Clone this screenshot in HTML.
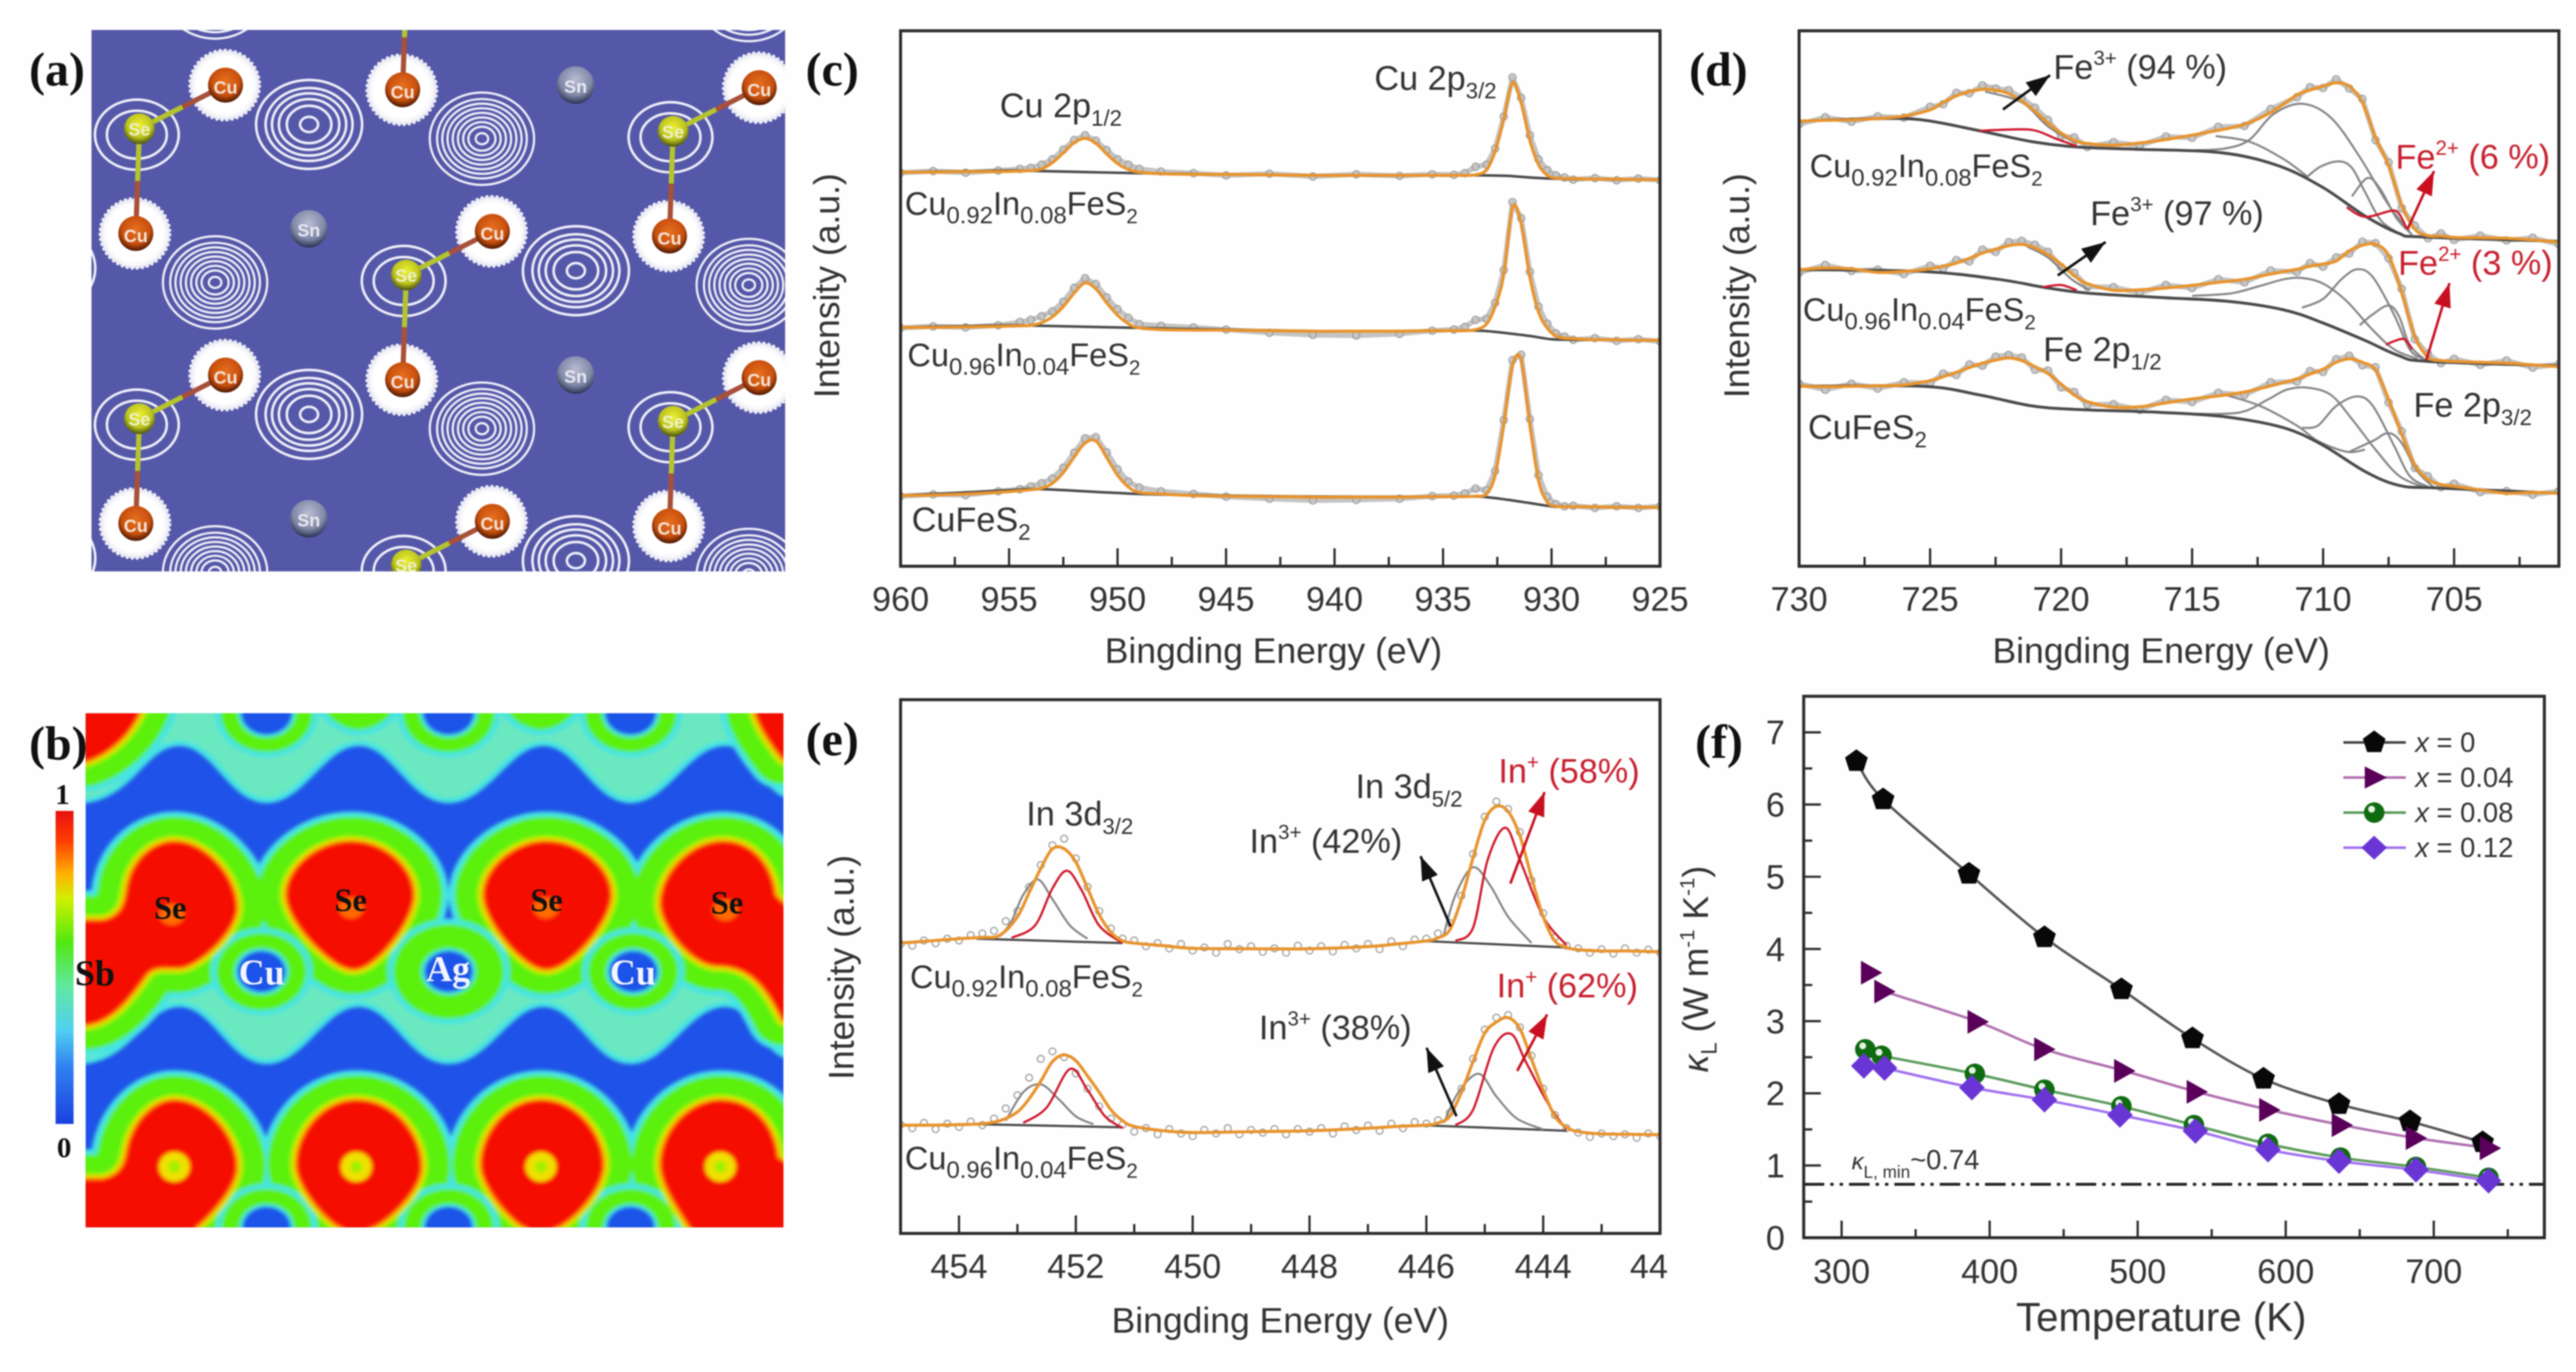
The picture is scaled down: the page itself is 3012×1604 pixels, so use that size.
<!DOCTYPE html>
<html lang="en">
<head>
<meta charset="utf-8">
<title>XPS spectra and lattice thermal conductivity figure</title>
<style>
html,body{margin:0;padding:0;background:#fefefe;width:3012px;height:1604px;overflow:hidden}
svg{display:block;filter:blur(0.7px)}
text{font-family:"Liberation Sans",sans-serif;fill:#333}
.letter{font-family:"Liberation Serif",serif;font-weight:bold;font-size:56px;fill:#111}
.lab{font-size:40px}
.sub{font-size:33px}
.sub2{font-size:26px}
.sup{font-size:24px}
.form{font-size:38px}
.form .sub{font-size:28px}
.form .sub2{font-size:24px}
.red,.red tspan{fill:#c8202f}
.ttl{font-size:41.5px;text-anchor:middle}
.elf{font-family:"Liberation Serif",serif;font-weight:bold}
</style>
</head>
<body>
<svg id="fig" width="3012" height="1604" viewBox="0 0 3012 1604">
<defs>
<radialGradient id="cuGrad" cx="50%" cy="40%" r="62%"><stop offset="0" stop-color="#e8701f"/><stop offset=".65" stop-color="#c8500e"/><stop offset="1" stop-color="#3a1003"/></radialGradient>
<radialGradient id="seGrad" cx="50%" cy="38%" r="62%"><stop offset="0" stop-color="#eef030"/><stop offset=".65" stop-color="#bcc420"/><stop offset="1" stop-color="#4a5010"/></radialGradient>
<radialGradient id="snGrad" cx="50%" cy="35%" r="65%"><stop offset="0" stop-color="#b8bcd0"/><stop offset=".65" stop-color="#8088a8"/><stop offset="1" stop-color="#2a3050"/></radialGradient>
<radialGradient id="blobGrad"><stop offset="0" stop-color="#fff"/><stop offset=".8" stop-color="#fff"/><stop offset=".93" stop-color="#f2f2f8"/><stop offset="1" stop-color="#c8c8e4"/></radialGradient>
<linearGradient id="barGrad" x1="0" y1="0" x2="0" y2="1"><stop offset="0" stop-color="#e81010"/><stop offset=".1" stop-color="#ff4000"/><stop offset=".2" stop-color="#ffb000"/><stop offset=".28" stop-color="#d0f000"/><stop offset=".42" stop-color="#50e810"/><stop offset=".56" stop-color="#60e8a0"/><stop offset=".7" stop-color="#50d0f0"/><stop offset=".82" stop-color="#3080f0"/><stop offset="1" stop-color="#1a40e0"/></linearGradient>
<clipPath id="clipA"><rect x="107" y="35" width="811" height="633"/></clipPath>
<clipPath id="clipB"><rect x="167" y="66" width="1361" height="1172"/></clipPath>
<clipPath id="clipC"><rect x="1053" y="36" width="888" height="626"/></clipPath>
<clipPath id="clipD"><rect x="2103.6" y="36" width="888.4" height="626"/></clipPath>
<clipPath id="clipE"><rect x="1053" y="818" width="888" height="624"/></clipPath>
<clipPath id="clipF"><rect x="2109" y="814" width="866" height="633"/></clipPath>
<filter id="soft" x="-5%" y="-5%" width="110%" height="110%"><feGaussianBlur stdDeviation="4"/></filter>
<marker id="headBlack" markerUnits="userSpaceOnUse" markerWidth="30" markerHeight="22" refX="28" refY="10" orient="auto"><path d="M0,0 L28,10 L0,20 Z" fill="#111"/></marker>
<marker id="headRed" markerUnits="userSpaceOnUse" markerWidth="30" markerHeight="22" refX="28" refY="10" orient="auto"><path d="M0,0 L28,10 L0,20 Z" fill="#c81020"/></marker>
</defs>

<rect width="3012" height="1604" fill="#fefefe"/>

<!-- Panel a -->
<text class="letter" x="34" y="100">(a)</text>
<g clip-path="url(#clipA)">
  <rect x="107" y="35" width="811" height="633" fill="#5558a8"/>
  <g id="latticeA"></g>
</g>

<!-- Panel b -->
<text class="letter" x="34" y="888">(b)</text>
<g transform="translate(0,800) scale(0.5995,0.5128)" clip-path="url(#clipB)">
  <rect x="167" y="66" width="1361" height="1172" fill="#1f52e8"/>
  <g id="elfLayers" filter="url(#soft)">
    <path fill="#6ae8c0" stroke="#45e4e4" stroke-width="12" d="M100,280 L167,265 C260,250 280,135 350,135 C420,135 450,265 520,265 C590,265 630,135 700,135 C770,135 800,265 875,265 C950,265 990,135 1060,135 C1130,135 1160,265 1230,265 C1300,265 1340,135 1415,135 C1470,135 1490,230 1528,250 L1600,260 L1600,0 L100,0 Z"/>
    <path fill="#6ae8c0" stroke="#45e4e4" stroke-width="12" d="M100,875 L167,860 C260,845 280,730 350,730 C420,730 450,860 520,860 C590,860 630,730 700,730 C770,730 800,860 875,860 C950,860 990,730 1060,730 C1130,730 1160,860 1230,860 C1300,860 1340,730 1415,730 C1470,730 1490,825 1528,845 L1600,855 L1600,540 L100,540 Z"/>
    <path fill="#6ae8c0" stroke="#45e4e4" stroke-width="12" d="M440,1300 L440,1120 L520,1060 L600,1120 L600,1300 Z M800,1300 L800,1120 L875,1060 L950,1120 L950,1300 Z M1160,1300 L1160,1120 L1235,1060 L1310,1120 L1310,1300 Z"/>
  </g>
</g>
<text class="elf" x="73" y="940" font-size="34" text-anchor="middle" style="fill:#111">1</text>
<rect x="65" y="948" width="21" height="366" fill="url(#barGrad)"/>
<text class="elf" x="75" y="1353" font-size="34" text-anchor="middle" style="fill:#111">0</text>
<text class="elf" x="111" y="1152" font-size="42" text-anchor="middle" style="fill:#111">Sb</text>
<text class="elf" x="199" y="1074" font-size="38" text-anchor="middle" style="fill:#111">Se</text>
<text class="elf" x="410" y="1065" font-size="38" text-anchor="middle" style="fill:#111">Se</text>
<text class="elf" x="639" y="1065" font-size="38" text-anchor="middle" style="fill:#111">Se</text>
<text class="elf" x="850" y="1068" font-size="38" text-anchor="middle" style="fill:#111">Se</text>
<text class="elf" x="306" y="1151" font-size="42" text-anchor="middle" style="fill:#f4f4ff">Cu</text>
<text class="elf" x="524" y="1147" font-size="42" text-anchor="middle" style="fill:#f4f4ff">Ag</text>
<text class="elf" x="740" y="1151" font-size="42" text-anchor="middle" style="fill:#f4f4ff">Cu</text>

<!-- Panel c -->
<text class="letter" x="942" y="100">(c)</text>
<g id="plotC"></g>
<rect x="1053" y="36" width="888" height="626" fill="none" stroke="#2a2a2a" stroke-width="3.5"/>
<g id="axisC"></g>
<text class="ttl" x="1489" y="775">Bingding Energy (eV)</text>
<text class="ttl" transform="translate(981,334) rotate(-90)">Intensity (a.u.)</text>
<text class="lab" x="1169" y="137">Cu 2p<tspan class="sub2" dy="10">1/2</tspan></text>
<text class="lab" x="1607" y="105">Cu 2p<tspan class="sub2" dy="10">3/2</tspan></text>
<text class="form" x="1058" y="251">Cu<tspan class="sub" dy="10">0.92</tspan><tspan dy="-10">In</tspan><tspan class="sub" dy="10">0.08</tspan><tspan dy="-10">FeS</tspan><tspan class="sub2" dy="10">2</tspan></text>
<text class="form" x="1061" y="428">Cu<tspan class="sub" dy="10">0.96</tspan><tspan dy="-10">In</tspan><tspan class="sub" dy="10">0.04</tspan><tspan dy="-10">FeS</tspan><tspan class="sub2" dy="10">2</tspan></text>
<text class="lab" x="1066" y="621">CuFeS<tspan class="sub2" dy="10">2</tspan></text>

<!-- Panel d -->
<text class="letter" x="1975" y="100">(d)</text>
<g id="plotD"></g>
<rect x="2103.6" y="36" width="888.4" height="626" fill="none" stroke="#2a2a2a" stroke-width="3.5"/>
<g id="axisD"></g>
<text class="ttl" x="2527" y="775">Bingding Energy (eV)</text>
<text class="ttl" transform="translate(2045,334) rotate(-90)">Intensity (a.u.)</text>
<text class="lab" x="2401" y="92">Fe<tspan class="sup" dy="-16">3+</tspan><tspan dy="16"> (94 %)</tspan></text>
<text class="lab" x="2444" y="263">Fe<tspan class="sup" dy="-16">3+</tspan><tspan dy="16"> (97 %)</tspan></text>
<text class="lab red" x="2801" y="197">Fe<tspan class="sup" dy="-16">2+</tspan><tspan dy="16"> (6 %)</tspan></text>
<text class="lab red" x="2804" y="321">Fe<tspan class="sup" dy="-16">2+</tspan><tspan dy="16"> (3 %)</tspan></text>
<text class="form" x="2116" y="207">Cu<tspan class="sub" dy="10">0.92</tspan><tspan dy="-10">In</tspan><tspan class="sub" dy="10">0.08</tspan><tspan dy="-10">FeS</tspan><tspan class="sub2" dy="10">2</tspan></text>
<text class="form" x="2108" y="375">Cu<tspan class="sub" dy="10">0.96</tspan><tspan dy="-10">In</tspan><tspan class="sub" dy="10">0.04</tspan><tspan dy="-10">FeS</tspan><tspan class="sub2" dy="10">2</tspan></text>
<text class="lab" x="2114" y="513">CuFeS<tspan class="sub2" dy="10">2</tspan></text>
<text class="lab" x="2389" y="422">Fe 2p<tspan class="sub2" dy="10">1/2</tspan></text>
<text class="lab" x="2822" y="487">Fe 2p<tspan class="sub2" dy="10">3/2</tspan></text>
<line x1="2342" y1="128" x2="2397" y2="88" stroke="#111" stroke-width="3" marker-end="url(#headBlack)"/>
<line x1="2406" y1="322" x2="2462" y2="283" stroke="#111" stroke-width="3" marker-end="url(#headBlack)"/>
<line x1="2815" y1="268" x2="2846" y2="200" stroke="#c81020" stroke-width="3" marker-end="url(#headRed)"/>
<line x1="2837" y1="421" x2="2864" y2="331" stroke="#c81020" stroke-width="3" marker-end="url(#headRed)"/>

<!-- Panel e -->
<text class="letter" x="942" y="883">(e)</text>
<g id="plotE"></g>
<rect x="1053" y="818" width="888" height="624" fill="none" stroke="#2a2a2a" stroke-width="3.5"/>
<g id="axisE"></g>
<text class="ttl" x="1497" y="1558">Bingding Energy (eV)</text>
<text class="ttl" transform="translate(998,1131) rotate(-90)">Intensity (a.u.)</text>
<text class="lab" x="1200" y="965">In 3d<tspan class="sub2" dy="10">3/2</tspan></text>
<text class="lab" x="1585" y="933">In 3d<tspan class="sub2" dy="10">5/2</tspan></text>
<text class="lab red" x="1752" y="915">In<tspan class="sup" dy="-16">+</tspan><tspan dy="16"> (58%)</tspan></text>
<text class="lab" x="1461" y="997">In<tspan class="sup" dy="-16">3+</tspan><tspan dy="16"> (42%)</tspan></text>
<text class="lab red" x="1750" y="1166">In<tspan class="sup" dy="-16">+</tspan><tspan dy="16"> (62%)</tspan></text>
<text class="lab" x="1472" y="1215">In<tspan class="sup" dy="-16">3+</tspan><tspan dy="16"> (38%)</tspan></text>
<text class="form" x="1064" y="1155">Cu<tspan class="sub" dy="10">0.92</tspan><tspan dy="-10">In</tspan><tspan class="sub" dy="10">0.08</tspan><tspan dy="-10">FeS</tspan><tspan class="sub2" dy="10">2</tspan></text>
<text class="form" x="1058" y="1367">Cu<tspan class="sub" dy="10">0.96</tspan><tspan dy="-10">In</tspan><tspan class="sub" dy="10">0.04</tspan><tspan dy="-10">FeS</tspan><tspan class="sub2" dy="10">2</tspan></text>
<line x1="1696" y1="1083" x2="1661" y2="1001" stroke="#111" stroke-width="3" marker-end="url(#headBlack)"/>
<line x1="1766" y1="1033" x2="1806" y2="926" stroke="#c81020" stroke-width="3" marker-end="url(#headRed)"/>
<line x1="1703" y1="1305" x2="1668" y2="1225" stroke="#111" stroke-width="3" marker-end="url(#headBlack)"/>
<line x1="1774" y1="1252" x2="1809" y2="1186" stroke="#c81020" stroke-width="3" marker-end="url(#headRed)"/>

<!-- Panel f -->
<text class="letter" x="1982" y="886">(f)</text>
<g id="plotF"></g>
<rect x="2109" y="814" width="866" height="633" fill="none" stroke="#2a2a2a" stroke-width="3.5"/>
<g id="axisF"></g>
<text class="ttl" x="2527" y="1556" style="font-size:47px">Temperature (K)</text>
<text class="ttl" transform="translate(1997,1133) rotate(-90)"><tspan font-style="italic">κ</tspan><tspan class="sub2" dy="10">L</tspan><tspan dy="-10"> (W m</tspan><tspan class="sup" dy="-16">-1</tspan><tspan dy="16"> K</tspan><tspan class="sup" dy="-16">-1</tspan><tspan dy="16">)</tspan></text>
<text x="2165" y="1367" font-size="32"><tspan font-style="italic" font-size="28">κ</tspan><tspan font-size="20" dy="10">L, min</tspan><tspan dy="-10">~0.74</tspan></text>
<g>
  <g>
    <line x1="2740" x2="2813" y1="868" y2="868" stroke="#444" stroke-width="3"/>
    <polygon points="2776,854 2789.3,863.7 2784.2,879.3 2767.8,879.3 2762.7,863.7" fill="#080808"/>
    <text x="2824" y="879" font-size="32"><tspan font-style="italic">x</tspan> = 0</text>
  </g>
  <g>
    <line x1="2740" x2="2813" y1="909" y2="909" stroke="#b070b0" stroke-width="3"/>
    <polygon points="2765,896 2791,909 2765,922" fill="#5a005a"/>
    <text x="2824" y="920" font-size="32"><tspan font-style="italic">x</tspan> = 0.04</text>
  </g>
  <g>
    <line x1="2740" x2="2813" y1="950" y2="950" stroke="#5a9a5a" stroke-width="3"/>
    <circle cx="2776" cy="950" r="12" fill="#0f6b0f"/>
    <circle cx="2773" cy="946" r="4" fill="#e8f4e8"/>
    <text x="2824" y="961" font-size="32"><tspan font-style="italic">x</tspan> = 0.08</text>
  </g>
  <g>
    <line x1="2740" x2="2813" y1="991" y2="991" stroke="#a070f0" stroke-width="3"/>
    <polygon points="2776,977 2791,991 2776,1005 2761,991" fill="#6a35d5"/>
    <text x="2824" y="1002" font-size="32"><tspan font-style="italic">x</tspan> = 0.12</text>
  </g>
</g>
</svg>

<script>
// ---------- Panel c data: Cu 2p (energy in eV, intensity in % of frame height) ----------
const cEnergy=[960,958.5,957,955.5,954.5,954,953.5,953,952.5,952,951.5,951,950.5,950,949.5,949,948,946.5,945,943,941,939,937,935.5,934.5,934,933.5,933,932.6,932.2,931.8,931.4,931,930.6,930.2,929.8,929.4,929,928,927,926,925];
const cFitTop=[73.6,73.6,73.7,73.7,73.8,73.9,74.2,75.4,77.2,79.1,79.9,79,77,75.2,74.1,73.6,73.3,73.2,73.2,73.1,73,73,73,73,73,73,73.1,74,77.5,83.5,90.3,86.5,79.5,75,73,72.5,72.4,72.4,72.3,72.3,72.2,72.2];
const cMeasTop=[73.5,73.8,73.5,73.9,74.2,74.4,75,76,77.8,79.6,80.5,79.5,77.7,76,75,74.2,73.7,73.4,73,73.3,72.8,73.2,72.9,73.2,73.1,73.4,74.6,75,78,84,91.3,87.5,80.5,76,74,73,72.6,72.2,72.5,72.1,72.4,72.1];
const cFitMid=[44.6,44.6,44.7,44.8,44.9,45,45.5,46.6,48.5,51,52.9,51.8,49.2,46.9,45.3,44.5,44.2,44.1,44.1,44,43.9,43.9,43.9,44,44,44,44.2,45.2,48.5,54.5,67,64,54,47.5,44.5,43,42.6,42.5,42.3,42.3,42.2,42.2];
const cMeasMid=[44.5,44.8,44.6,45,45.6,46,46.7,47.6,49.4,52,53.8,52.7,50.2,48,46.4,45.2,44.9,44.6,44.2,43.6,43.2,43.1,43.4,44,44.2,44.7,46,46.2,49.2,55.3,68,65,55,48.5,45.3,43.5,42.9,42.3,42.6,42.1,42.4,42];
const cFitBot=[13.2,13.3,13.5,13.8,14.1,14.3,14.6,15.5,17.5,20.4,23,23.4,20.3,17,14.8,13.8,13.5,13.2,13.1,13,12.9,12.9,12.9,13,13,13,13.1,13.5,17,26.5,37.5,38.5,26.5,16,12,11.2,11.1,11.1,11.1,11,11,11];
const cMeasBot=[13.1,13.4,13.3,14,14.4,14.9,15.5,16.4,18.4,21.2,23.9,24.1,21.3,18.1,15.8,14.7,14,13.5,13,12.6,12.3,12.4,12.6,13.1,13.2,13.6,14.5,14.2,17.8,27.3,38.5,39.5,27.5,17,13,11.6,11.2,11.3,10.9,11.2,10.9,11.2];
const cBgEnergy=[960,955,953.5,949,945,940,935,933.3,932,931,930,929,925];
const cBgTop=[73.6,73.9,73.8,73.4,73.2,73,73,73,72.9,72.6,72.4,72.3,72.2];
const cBgMid=[44.6,45,44.9,44.5,44.2,43.9,44,44,43.5,43,42.4,42.3,42.2];
const cBgBot=[13.2,14.2,14.4,13.5,13.2,13,13,13,12.4,11.8,11.2,11.1,11];
const cMajor=[960,955,950,945,940,935,930,925];
const cMinor=[957.5,952.5,947.5,942.5,937.5,932.5,927.5];
const cTickLabels=['960','955','950','945','940','935','930','925'];

// ---------- Panel d data: Fe 2p (energy in eV, intensity in a.u. 0-1226) ----------
const dEnergy=[730,729,728,727,726,725,724.5,724,723.5,723,722.5,722,721.5,721,720.5,720,719.5,719,718,717,716,715,714,713,712,711,710.5,710,709.5,709,708.5,708,707.5,707,706.5,706,705.5,705,704,703,702,701];
const dFitTop=[1019,1021,1022,1025,1031,1045,1062,1077,1087,1092,1090,1082,1065,1042,1015,992,975,968,964,969,977,987,998,1012,1039,1079,1090,1099,1107,1099,1062,982,917,827,772,757,756,753,752,751,747,742];
const dMeasTop=[1012,1028,1018,1030,1027,1052,1058,1084,1083,1101,1094,1090,1072,1050,1022,985,982,960,971,963,984,981,1006,1008,1047,1074,1097,1095,1115,1094,1070,976,925,820,780,751,762,747,757,746,752,737];
const dFitMid=[679,683,681,673,675,681,687,694,705,717,726,734,737,729,713,692,665,647,632,633,637,643,650,657,669,680,687,692,699,722,735,737,712,627,527,479,471,469,467,465,461,457];
const dMeasMid=[672,690,676,679,669,688,682,701,698,725,720,742,745,736,720,685,672,640,639,626,644,637,657,650,677,674,694,686,707,716,743,740,705,635,520,486,465,475,461,471,455,463];
const dFitBot=[412,411,412,413,415,425,434,444,455,465,472,477,471,457,441,417,392,377,364,365,374,383,390,399,413,429,440,451,467,475,467,449,382,302,232,199,187,183,175,167,169,167];
const dMeasBot=[418,404,418,407,421,419,441,438,462,459,480,484,478,450,448,410,399,370,371,358,381,376,397,392,421,423,447,445,474,482,460,456,375,309,225,206,181,189,170,172,164,172];
const dBgTopE=[730,727,725.3,723.1,721.1,719.4,717.2,713.9,711.7,710,708.4,707.1,706.2,701];
const dBgTopI=[1019,1025,1022,997,972,960,955,947,917,867,802,762,754,744];
const dBgMidE=[730,725.3,722.4,720.5,718.9,716.1,713.7,711.5,710,708.4,707.1,706,701];
const dBgMidI=[679,675,657,637,625,615,607,587,557,517,482,469,459];
const dBgBotE=[730,725.3,723.1,721.1,719.4,716.1,713.7,711.5,710,708.4,707.1,705.6,701];
const dBgBotI=[412,412,392,367,359,352,342,317,277,217,185,179,167];
// gray fitted component peaks: energies and intensities
const dTopBigE=[715,713.7,712.8,711.9,710.8,709.7,708.6,707.5,706.7];
const dTopBigI=[952,957,977,1035,1059,1027,937,827,767];
const dTopSecE=[710.6,710.1,709.4,708.9,708.4,707.8,707.1];
const dTopSecI=[892,915,927,912,857,792,762];
const dTopThiE=[708.9,708.3,707.8,707.2,706.6];
const dTopThiI=[847,889,862,797,759];
const dTopShoE=[714.1,712.8,711.5,710.6];
const dTopShoI=[985,972,932,892];
const dTopEnvE=[722.9,721.5,720.5,719.4];
const dTopEnvI=[1087,1062,1007,967];
const dTopRed1E=[723.1,722.4,721.1,720.2,719.4];
const dTopRed1I=[997,999,999,979,962];
const dTopRed2E=[709.1,708.4,707.4,707.1,706.8];
const dTopRed2I=[822,800,814,807,772];
const dMidBigE=[715,713.5,712.4,711.5,710.8,710,709.1,708.2,707.3,706.4];
const dMidBigI=[619,625,642,657,660,647,607,547,497,475];
const dMidSecE=[710.8,710,709.3,708.7,708.1,707.3,706.7,706.2];
const dMidSecI=[592,612,657,680,662,577,497,475];
const dMidThiE=[708.6,708.1,707.5,707.1,706.7,706.1];
const dMidThiI=[552,577,597,572,507,472];
const dMidEnvE=[721.3,720.5,719.6,718.9];
const dMidEnvI=[732,707,657,632];
const dMidRed1E=[720.7,720,719.4];
const dMidRed1I=[639,644,632];
const dMidRed2E=[707.6,707.3,706.9,706.6];
const dMidRed2I=[507,515,520,497];
const dBotBigE=[715,713.2,712.1,711.4,710.6,709.7,708.9,708,707.1,706.2];
const dBotBigI=[349,352,382,404,409,392,337,267,207,182];
const dBotSecE=[710.8,710.2,709.5,708.7,708.1,707.3,706.7,706];
const dBotSecI=[317,322,367,389,367,277,207,182];
const dBotThiE=[709,708.1,707.5,707,706.4,705.8];
const dBotThiI=[262,287,305,282,217,182];
const dBotShoE=[713.7,712.4,711,710.2,709.1,708.4];
const dBotShoI=[392,367,322,287,262,267];
const dMajor=[730,725,720,715,710,705];
const dMinor=[727.5,722.5,717.5,712.5,707.5,702.5];
const dTickLabels=['730','725','720','715','710','705'];

// ---------- Panel e data: In 3d (energy in eV, intensity in a.u. 0-1217) ----------
const eEnergy=[455,454.5,454,453.6,453.3,453,452.8,452.6,452.4,452.2,452,451.8,451.6,451.4,451.2,451,450.5,450,449,448,447,446.5,446,445.8,445.6,445.4,445.2,445,444.8,444.6,444.4,444.2,444,443.8,443.6,443.4,443,442.5,442];
const eFitTop=[662,667,672,675,680,722,777,832,877,877,847,787,727,687,667,662,656,650,649,649,654,660,667,674,692,762,857,942,974,962,907,812,722,667,652,647,644,644,642];
const eFitBot=[247,247,248,250,257,277,307,347,392,407,394,359,322,282,257,244,234,230,232,234,240,244,247,252,267,322,392,457,482,492,467,397,327,267,242,232,227,226,225];
const eMeasE=[455,454.8,454.6,454.4,454.2,454,453.8,453.6,453.4,453.2,453,452.8,452.6,452.4,452.2,452,451.8,451.6,451.4,451.2,451,450.8,450.6,450.4,450.2,450,449.8,449.6,449.4,449.2,449,448.8,448.6,448.4,448.2,448,447.8,447.6,447.4,447.2,447,446.8,446.6,446.4,446.2,446,445.8,445.6,445.4,445.2,445,444.8,444.6,444.4,444.2,444,443.8,443.6,443.4,443.2,443,442.8,442.6,442.4,442.2,442];
const eMeasTop=[660,656,668,662,672,668,680,684,690,712,735,790,840,885,900,855,790,735,695,672,668,655,662,650,660,645,652,640,660,648,655,642,650,640,656,645,655,643,658,650,660,648,666,655,670,672,684,708,770,865,950,985,968,915,805,730,675,656,650,640,648,638,650,640,647,640];
const eMeasBot=[248,240,252,238,250,243,255,247,262,285,315,355,398,415,402,365,330,290,262,248,232,240,226,238,228,222,236,228,240,226,236,230,238,226,238,232,240,228,244,236,246,234,250,240,254,250,258,275,330,398,465,492,498,470,405,330,270,240,230,220,228,222,226,218,228,222];
const eBgTop1E=[453.7,451.2], eBgTop1I=[672,662];
const eBgTop2E=[446.1,443.6], eBgTop2I=[667,652];
const eBgBot1E=[453.7,451.2], eBgBot1I=[249,242];
const eBgBot2E=[446.1,443.6], eBgBot2I=[247,234];
const eTopGray1E=[453.3,453.1,452.9,452.65,452.4,452.1,451.8], eTopGray1I=[677,712,772,807,762,702,672];
const eTopRed1E=[453.1,452.7,452.4,452.15,451.9,451.6,451.2], eTopRed1I=[674,702,787,827,782,702,662];
const eTopGray2E=[445.7,445.5,445.2,444.9,444.6,444.2], eTopGray2I=[682,772,835,792,722,662];
const eTopRed2E=[445.5,445.2,444.95,444.65,444.4,444,443.6], eTopRed2I=[667,697,852,925,852,722,657];
const eBotGray1E=[453.2,452.9,452.6,452.3,452,451.7], eBotGray1I=[257,322,340,307,267,249];
const eBotRed1E=[452.9,452.5,452.1,451.8,451.5,451.2], eBotRed1I=[252,287,375,327,267,240];
const eBotGray2E=[445.7,445.45,445.1,444.8,444.45,444], eBotGray2I=[252,322,364,312,262,237];
const eBotRed2E=[445.5,445.2,444.85,444.55,444.3,443.9,443.6], eBotRed2I=[247,282,422,455,392,292,237];
const eMajor=[454,452,450,448,446,444];
const eMinor=[453,451,449,447,445,443];
const eTickLabels=['454','452','450','448','446','444','44'];
const eTickLabelE=[454,452,450,448,446,444,442.19];

// ---------- Panel f data: lattice thermal conductivity ----------
const fTempX0=[310,328,386,437,489,537,585,636,684,733];
const fKappaX0=[6.60,6.07,5.04,4.16,3.44,2.76,2.20,1.85,1.61,1.32];
const fTempX004=[320,329,392,437,491,540,589,638,688,738];
const fKappaX004=[3.67,3.41,2.99,2.61,2.31,2.02,1.77,1.56,1.38,1.24];
const fTempX008=[316,327,390,437,489,538,588,637,688,737];
const fKappaX008=[2.61,2.52,2.27,2.05,1.82,1.56,1.30,1.11,0.98,0.83];
const fTempX012=[315,329,388,437,488,539,588,636,688,737];
const fKappaX012=[2.38,2.35,2.08,1.91,1.70,1.48,1.22,1.06,0.94,0.79];
const fKappaMin=[0.74];
const fXMajor=[300,400,500,600,700];
const fXMinor=[350,450,550,650,750];
const fYMajor=[0,1,2,3,4,5,6,7];
const fYMinor=[0.5,1.5,2.5,3.5,4.5,5.5,6.5];
const fXLabels=['300','400','500','600','700'];
const fYLabels=['0','1','2','3','4','5','6','7'];

// ---------- Shared helpers ----------
const NS='http://www.w3.org/2000/svg';
function add(parent,tag,attrs){
  const n=document.createElementNS(NS,tag);
  for(const k in attrs){n.setAttribute(k,attrs[k]);}
  parent.appendChild(n);
  return n;
}
function smooth(pts){
  let d='M'+pts[0][0].toFixed(1)+','+pts[0][1].toFixed(1);
  for(let i=0;i<pts.length-1;i++){
    const p0=pts[Math.max(i-1,0)],p1=pts[i],p2=pts[i+1],p3=pts[Math.min(i+2,pts.length-1)];
    const c1x=p1[0]+(p2[0]-p0[0])/6,c1y=p1[1]+(p2[1]-p0[1])/6;
    const c2x=p2[0]-(p3[0]-p1[0])/6,c2y=p2[1]-(p3[1]-p1[1])/6;
    d+=' C'+c1x.toFixed(1)+','+c1y.toFixed(1)+' '+c2x.toFixed(1)+','+c2y.toFixed(1)+' '+p2[0].toFixed(1)+','+p2[1].toFixed(1);
  }
  return d;
}
function linearEnergyAxis(eLeft,eRight,xLeft,xRight){return e=>xLeft+(eLeft-e)/(eLeft-eRight)*(xRight-xLeft);}
function linearIntensityAxis(iMax,yBottom,yTop){return v=>yBottom-v/iMax*(yBottom-yTop);}
function pts(xs,ys,X,Y){return xs.map((x,i)=>[X(x),Y(ys[i])]);}

function drawMeasured(g,es,is,X,Y,band){
  const p=pts(es,is,X,Y);
  if(band){
    const b=add(g,'polyline',{points:p.map(q=>q.join(',')).join(' '),fill:'none',stroke:'#c4c4c4','stroke-width':6,'stroke-linejoin':'round'});
    
    
  }
  p.forEach(q=>{
    const c=add(g,'circle',{cx:q[0].toFixed(1),cy:q[1].toFixed(1),r:band?4.2:4,fill:'none',stroke:'#a0a0a0','stroke-width':1.5});
    
    
  });
}
function drawBackground(g,es,is,X,Y,w){
  const el=add(g,'path',{d:smooth(pts(es,is,X,Y)),fill:'none',stroke:'#4a4a4a','stroke-width':w});
  
  
}
function drawFit(g,es,is,X,Y){
  const el=add(g,'path',{d:smooth(pts(es,is,X,Y)),fill:'none',stroke:'#e8942e','stroke-width':3.6,'stroke-linejoin':'round'});
  
  
}
function drawComponent(g,es,is,X,Y){
  const el=add(g,'path',{d:smooth(pts(es,is,X,Y)),fill:'none',stroke:'#858585','stroke-width':2.4});
  
  
}
function drawRedComponent(g,es,is,X,Y){
  const el=add(g,'path',{d:smooth(pts(es,is,X,Y)),fill:'none',stroke:'#d0182c','stroke-width':2.6});
  
  
}
function drawEnergyTicks(g,major,minor,labels,labelPos,X,yBottom,yBase){
  major.forEach(v=>{
    const t=add(g,'line',{x1:X(v),x2:X(v),y1:yBottom,y2:yBottom-21,stroke:'#2a2a2a','stroke-width':2.6});
    
    
  });
  minor.forEach(v=>{
    const t=add(g,'line',{x1:X(v),x2:X(v),y1:yBottom,y2:yBottom-11,stroke:'#2a2a2a','stroke-width':2.6});
    
    
  });
  labels.forEach((s,i)=>{
    const t=add(g,'text',{x:X(labelPos[i]),y:yBase,'font-size':40,'text-anchor':'middle'});
    t.textContent=s;
    
    
  });
}

// ---------- Panel c ----------
(function(){
  const g=add(document.getElementById('plotC'),'g',{'clip-path':'url(#clipC)'});
  
  
  const X=linearEnergyAxis(960,925,1053,1941), Y=linearIntensityAxis(100,662,36);
  drawMeasured(g,cEnergy,cMeasTop,X,Y,true);
  drawMeasured(g,cEnergy,cMeasMid,X,Y,true);
  drawMeasured(g,cEnergy,cMeasBot,X,Y,true);
  drawBackground(g,cBgEnergy,cBgTop,X,Y,3);
  drawBackground(g,cBgEnergy,cBgMid,X,Y,3);
  drawBackground(g,cBgEnergy,cBgBot,X,Y,3);
  drawFit(g,cEnergy,cFitTop,X,Y);
  drawFit(g,cEnergy,cFitMid,X,Y);
  drawFit(g,cEnergy,cFitBot,X,Y);
  drawEnergyTicks(document.getElementById('axisC'),cMajor,cMinor,cTickLabels,cMajor,X,662,714);
})();

// ---------- Panel d ----------
(function(){
  const g=add(document.getElementById('plotD'),'g',{'clip-path':'url(#clipD)'});
  
  
  const X=linearEnergyAxis(730,701,2103.6,2992), Y=linearIntensityAxis(1226,662,36);
  drawMeasured(g,dEnergy,dMeasTop,X,Y,true);
  drawMeasured(g,dEnergy,dMeasMid,X,Y,true);
  drawMeasured(g,dEnergy,dMeasBot,X,Y,true);
  [[dTopBigE,dTopBigI],[dTopSecE,dTopSecI],[dTopThiE,dTopThiI],[dTopShoE,dTopShoI],[dTopEnvE,dTopEnvI],
   [dMidBigE,dMidBigI],[dMidSecE,dMidSecI],[dMidThiE,dMidThiI],[dMidEnvE,dMidEnvI],
   [dBotBigE,dBotBigI],[dBotSecE,dBotSecI],[dBotThiE,dBotThiI],[dBotShoE,dBotShoI]].forEach(c=>drawComponent(g,c[0],c[1],X,Y));
  drawBackground(g,dBgTopE,dBgTopI,X,Y,3.4);
  drawBackground(g,dBgMidE,dBgMidI,X,Y,3.4);
  drawBackground(g,dBgBotE,dBgBotI,X,Y,3.4);
  [[dTopRed1E,dTopRed1I],[dTopRed2E,dTopRed2I],[dMidRed1E,dMidRed1I],[dMidRed2E,dMidRed2I]].forEach(c=>drawRedComponent(g,c[0],c[1],X,Y));
  drawFit(g,dEnergy,dFitTop,X,Y);
  drawFit(g,dEnergy,dFitMid,X,Y);
  drawFit(g,dEnergy,dFitBot,X,Y);
  drawEnergyTicks(document.getElementById('axisD'),dMajor,dMinor,dTickLabels,dMajor,X,662,714);
})();

// ---------- Panel e ----------
(function(){
  const g=add(document.getElementById('plotE'),'g',{'clip-path':'url(#clipE)'});
  
  
  const X=linearEnergyAxis(455,442,1053,1941), Y=linearIntensityAxis(1217,1442,818);
  drawMeasured(g,eMeasE,eMeasTop,X,Y,false);
  drawMeasured(g,eMeasE,eMeasBot,X,Y,false);
  [[eBgTop1E,eBgTop1I],[eBgTop2E,eBgTop2I],[eBgBot1E,eBgBot1I],[eBgBot2E,eBgBot2I]].forEach(c=>drawBackground(g,c[0],c[1],X,Y,2.6));
  [[eTopGray1E,eTopGray1I],[eTopGray2E,eTopGray2I],[eBotGray1E,eBotGray1I],[eBotGray2E,eBotGray2I]].forEach(c=>drawComponent(g,c[0],c[1],X,Y));
  [[eTopRed1E,eTopRed1I],[eTopRed2E,eTopRed2I],[eBotRed1E,eBotRed1I],[eBotRed2E,eBotRed2I]].forEach(c=>drawRedComponent(g,c[0],c[1],X,Y));
  drawFit(g,eEnergy,eFitTop,X,Y);
  drawFit(g,eEnergy,eFitBot,X,Y);
  drawEnergyTicks(document.getElementById('axisE'),eMajor,eMinor,eTickLabels,eTickLabelE,X,1442,1494);
})();

// ---------- Panel f ----------
(function(){
  const g=add(document.getElementById('plotF'),'g',{'clip-path':'url(#clipF)'});
  
  
  const ax=document.getElementById('axisF');
  const X=t=>2109+(t-274.4)/(774.7-274.4)*866, Y=v=>1447-v/7.5*633;

  const ref=add(g,'line',{x1:2109,x2:2975,y1:Y(fKappaMin[0]),y2:Y(fKappaMin[0]),stroke:'#222','stroke-width':3.4,'stroke-dasharray':'24 7 4 7 4 7'});
  
  

  const curveX0=add(g,'path',{d:smooth(pts(fTempX0,fKappaX0,X,Y)),fill:'none',stroke:'#555','stroke-width':3});
  
  
  const curveX004=add(g,'path',{d:smooth(pts(fTempX004.slice(1),fKappaX004.slice(1),X,Y)),fill:'none',stroke:'#b070b0','stroke-width':3});
  
  
  const curveX008=add(g,'path',{d:smooth(pts(fTempX008.slice(1),fKappaX008.slice(1),X,Y)),fill:'none',stroke:'#5a9a5a','stroke-width':3});
  
  
  const curveX012=add(g,'path',{d:smooth(pts(fTempX012.slice(1),fKappaX012.slice(1),X,Y)),fill:'none',stroke:'#a070f0','stroke-width':3});
  
  

  fTempX0.forEach((t,i)=>{
    const cx=X(t),cy=Y(fKappaX0[i]),r=14;
    let s='';
    for(let k=0;k<5;k++){const a=-Math.PI/2+k*2*Math.PI/5;s+=(cx+r*Math.cos(a)).toFixed(1)+','+(cy+r*Math.sin(a)).toFixed(1)+' ';}
    const m=add(g,'polygon',{points:s,fill:'#080808'});
    
    
  });
  fTempX004.forEach((t,i)=>{
    const cx=X(t),cy=Y(fKappaX004[i]);
    const m=add(g,'polygon',{points:(cx-12)+','+(cy-14)+' '+(cx+13)+','+cy+' '+(cx-12)+','+(cy+14),fill:'#5a005a'});
    
    
  });
  fTempX008.forEach((t,i)=>{
    const cx=X(t),cy=Y(fKappaX008[i]);
    const m=add(g,'circle',{cx:cx,cy:cy,r:12,fill:'#0f6b0f'});
    
    
    const h=add(g,'circle',{cx:cx-3,cy:cy-4,r:4,fill:'#e4f2e4'});
    
    
  });
  fTempX012.forEach((t,i)=>{
    const cx=X(t),cy=Y(fKappaX012[i]);
    const m=add(g,'polygon',{points:cx+','+(cy-15)+' '+(cx+15)+','+cy+' '+cx+','+(cy+15)+' '+(cx-15)+','+cy,fill:'#6a35d5'});
    
    
  });

  fXMajor.forEach((v,i)=>{
    const t=add(ax,'line',{x1:X(v),x2:X(v),y1:1447,y2:1427,stroke:'#2a2a2a','stroke-width':2.6});
    
    
    const l=add(ax,'text',{x:X(v),y:1500,'font-size':40,'text-anchor':'middle'});
    l.textContent=fXLabels[i];
    
    
  });
  fXMinor.forEach(v=>{
    const t=add(ax,'line',{x1:X(v),x2:X(v),y1:1447,y2:1437,stroke:'#2a2a2a','stroke-width':2.6});
    
    
  });
  fYMajor.forEach((v,i)=>{
    const t=add(ax,'line',{x1:2109,x2:2129,y1:Y(v),y2:Y(v),stroke:'#2a2a2a','stroke-width':2.6});
    
    
    const l=add(ax,'text',{x:2087,y:Y(v)+14,'font-size':40,'text-anchor':'end'});
    l.textContent=fYLabels[i];
    
    
  });
  fYMinor.forEach(v=>{
    const t=add(ax,'line',{x1:2109,x2:2119,y1:Y(v),y2:Y(v),stroke:'#2a2a2a','stroke-width':2.6});
    
    
  });
})();

// ---------- Panel a: charge density lattice ----------
(function(){
  const root=document.getElementById('latticeA');
  const cells=[];
  for(let i=-2;i<=4;i++){for(let j=-3;j<=3;j++){
    const sx=163+i*312, sy=150.5+j*339+i*171;
    if(sx>-420&&sx<1000&&sy>-100&&sy<800){cells.push([sx,sy]);}
  }}
  const rings1=[1,.82,.7,.57,.42,.17];
  const rings2=[1,.86,.76,.66,.56,.46,.36,.26,.12];
  cells.forEach(c=>{
    rings1.forEach(f=>{
      const e=add(root,'ellipse',{cx:c[0]+198.4,cy:c[1]-5,rx:62*f,ry:52*f,fill:'none',stroke:'#eeeef8','stroke-width':3});
      
      
    });
    rings2.forEach(f=>{
      const e=add(root,'ellipse',{cx:c[0]+400.5,cy:c[1]+11.7,rx:61*f,ry:54*f,fill:'none',stroke:'#eeeef8','stroke-width':2.6});
      
      
    });
    [[49,41],[35,28]].forEach(r=>{
      const e=add(root,'ellipse',{cx:c[0]-3,cy:c[1]+7,rx:r[0],ry:r[1],fill:'none',stroke:'#eeeef8','stroke-width':3});
      
      
    });
    [[100.7,-51],[-4.2,122.4]].forEach(o=>{
      const b=add(root,'circle',{cx:c[0]+o[0]-1,cy:c[1]+o[1],r:41,fill:'url(#blobGrad)',stroke:'#f4f4fa','stroke-width':3,'stroke-dasharray':'3 3'});
      
      
    });
  });
  cells.forEach(c=>{
    [[100.7,-51],[-4.2,122.4]].forEach(o=>{
      const mx=c[0]+o[0]*.5,my=c[1]+o[1]*.5;
      const y=add(root,'line',{x1:c[0],y1:c[1],x2:mx,y2:my,stroke:'#b4c430','stroke-width':6});
      
      
      const r=add(root,'line',{x1:mx,y1:my,x2:c[0]+o[0],y2:c[1]+o[1],stroke:'#a8503a','stroke-width':6});
      
      
    });
  });
  function label(x,y,s,col){
    const t=add(root,'text',{x:x,y:y+7,'font-size':21,'font-weight':'bold','text-anchor':'middle',style:'fill:'+col});
    t.textContent=s;
    
    
  }
  cells.forEach(c=>{
    const se=add(root,'circle',{cx:c[0],cy:c[1],r:18,fill:'url(#seGrad)'});
    
    
    label(c[0],c[1]+1,'Se','#eef0c8');
    [[100.7,-51],[-4.2,122.4]].forEach(o=>{
      const cu=add(root,'circle',{cx:c[0]+o[0],cy:c[1]+o[1],r:20.5,fill:'url(#cuGrad)'});
      
      
      label(c[0]+o[0],c[1]+o[1]+3,'Cu','#f4e4d8');
    });
    const sn=add(root,'circle',{cx:c[0]+198,cy:c[1]+117,r:22,fill:'url(#snGrad)'});
    
    
    label(c[0]+198,c[1]+119,'Sn','#e8e8f0');
  });
})();

// ---------- Panel b: ELF contour layers ----------
(function(){
  const root=document.getElementById('elfLayers');
  const lobes=[
    'M340,360 C400,360 460,440 460,510 C460,560 390,640 350,645 C320,645 300,640 285,660 C260,700 220,770 167,775 L120,775 L120,540 L200,540 C240,530 245,500 250,460 C260,400 300,360 340,360 Z',
    'M685,360 C750,360 805,420 805,480 C805,540 730,650 690,648 C650,650 560,540 560,480 C560,420 620,360 685,360 Z',
    'M1065,360 C1130,360 1190,420 1190,480 C1190,540 1110,650 1065,648 C1025,650 945,540 945,480 C945,420 1005,360 1065,360 Z',
    'M1410,360 C1470,360 1505,420 1510,480 C1520,500 1560,520 1560,540 L1560,770 L1528,765 C1500,700 1470,640 1400,640 C1350,640 1290,550 1290,500 C1290,430 1350,360 1410,360 Z',
    'M340,950 C400,950 460,1030 460,1100 C460,1150 400,1220 380,1238 L380,1300 L120,1300 L120,1130 L200,1130 C240,1120 245,1090 250,1060 C260,1000 300,950 340,950 Z',
    'M695,950 C770,950 820,1030 820,1100 C820,1160 740,1238 720,1238 L720,1300 L670,1300 L670,1238 C650,1238 580,1150 580,1095 C580,1025 630,950 695,950 Z',
    'M1055,950 C1125,950 1175,1030 1175,1095 C1175,1160 1100,1238 1080,1238 L1080,1300 L1030,1300 L1030,1238 C1010,1238 940,1150 940,1095 C940,1025 990,950 1055,950 Z',
    'M1405,950 C1470,950 1510,1010 1515,1080 L1560,1110 L1560,1300 L1380,1300 C1340,1220 1290,1150 1290,1095 C1290,1020 1345,950 1405,950 Z',
    'M120,0 L285,0 C280,80 230,150 167,175 L120,180 Z',
    'M1480,0 L1560,0 L1560,170 L1528,170 C1500,130 1480,90 1475,66 Z',
    'M675,0 L725,0 C722,30 712,42 700,46 C688,42 678,30 675,0 Z',
    'M1030,0 L1080,0 C1077,30 1067,42 1055,46 C1043,42 1033,30 1030,0 Z'
  ];
  const outer=[['#45e4e4',140],['#5cf010',116]];
  const inner=[['#b4f000',30],['#f0d000',18],['#ff7000',8],['#f51000',0]];
  function layer(col,w){
    lobes.forEach(d=>{
      const p=add(root,'path',{d:d,fill:col,stroke:w?col:'none','stroke-width':w,'stroke-linejoin':'round'});
      
      
    });
  }
  outer.forEach(l=>layer(l[0],l[1]));
  const rings=[[510,655,88],[875,655,108],[1235,655,88],[520,65,90],[875,65,90],[1230,65,90],[520,1238,88],[875,1238,88],[1230,1238,88]];
  rings.forEach(r=>{
    const o=add(root,'circle',{cx:r[0],cy:r[1],r:r[2]+11,fill:'#45e4e4'});
    
    
    const c=add(root,'circle',{cx:r[0],cy:r[1],r:r[2],fill:'#5cf010'});
    
    
  });
  inner.forEach(l=>layer(l[0],l[1]));
  const holes=[[510,655,47],[875,655,47],[1235,655,47],[520,65,50],[875,65,50],[1230,65,50],[520,1238,47],[875,1238,47],[1230,1238,47]];
  holes.forEach(h=>{
    const e=add(root,'circle',{cx:h[0],cy:h[1],r:h[2]+6,fill:'#45e4e4'});
    
    
    const c=add(root,'circle',{cx:h[0],cy:h[1],r:h[2],fill:'#1f52e8'});
    
    
  });
  [[340,1100],[695,1100],[1055,1100],[1405,1100]].forEach(s=>{
    const o=add(root,'ellipse',{cx:s[0],cy:s[1],rx:30,ry:34,fill:'#f0e000'});
    
    
    const c=add(root,'ellipse',{cx:s[0],cy:s[1],rx:12,ry:14,fill:'#a0f000'});
    
    
  });
  [[335,525],[685,510],[1065,510],[1415,515]].forEach(s=>{
    const o=add(root,'ellipse',{cx:s[0],cy:s[1],rx:24,ry:24,fill:'#ff6a00'});
    
    
  });
})();
</script>
</body>
</html>
